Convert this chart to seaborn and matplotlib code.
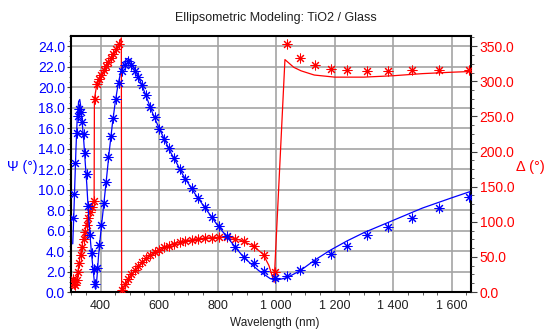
import matplotlib
matplotlib.use("Agg")
import matplotlib.pyplot as plt
from matplotlib.ticker import MultipleLocator, FuncFormatter
import seaborn as sns

# ---------------- data ----------------
# measured wavelengths (nm)
wl_meas = [306, 310, 314, 318, 322, 327, 332, 337, 342, 347, 352, 358, 364, 370, 376,
           382, 389, 396, 403, 411, 419, 427, 435, 444, 453, 463, 473, 483, 494, 505,
           517, 529, 542, 556, 570, 585, 601, 617, 634, 652, 671, 690, 711, 733, 756,
           780, 805, 832, 860, 890, 923, 960, 996, 1037, 1083, 1131, 1186, 1243, 1310,
           1383, 1465, 1555, 1660]
# measured Psi (deg)
psi_meas = [7.2, 9.6, 12.6, 15.5, 17.2, 17.9, 17.6, 16.6, 15.4, 13.6, 11.5, 8.4, 5.6, 3.8, 2.2,
            0.8, 2.3, 4.6, 6.5, 8.7, 10.7, 13.2, 15.2, 17.0, 18.8, 20.4, 21.6, 22.2, 22.6, 22.2,
            21.6, 21.0, 20.2, 19.2, 18.1, 17.1, 15.9, 14.9, 14.1, 13.1, 12.0, 11.0, 10.2, 9.2, 8.3,
            7.3, 6.4, 5.5, 4.4, 3.4, 2.8, 2.05, 1.4, 1.6, 2.1, 2.9, 3.75, 4.5, 5.55,
            6.3, 7.25, 8.2, 9.3]
# measured Delta (deg)
delta_meas = [18, 11, 10, 17, 28, 41, 53, 64, 75, 86, 96, 106, 114, 121, 129,
              275, 296, 303, 309, 316, 322, 328, 333, 339, 346, 353, 3, 11, 19, 26,
              32, 37, 43, 48, 52.5, 57, 60.5, 63.5, 66, 68.5, 70.8, 72.5, 74, 75.5, 76.8,
              77.6, 78.3, 78.2, 75.8, 72.3, 66, 52, 29, 353, 333, 323, 318, 316, 315,
              315, 316, 316, 316]

# model Psi curve
psi_model_wl = [305, 308, 312, 316, 320, 325, 329, 333, 338, 343, 348, 353, 358, 364, 370,
                376, 381, 384, 388, 393, 400, 410, 420, 430, 440, 450, 460, 470, 480, 490,
                500, 520, 540, 560, 580, 600, 620, 640, 660, 680, 700, 720, 740, 760, 780,
                800, 820, 840, 860, 880, 900, 920, 940, 960, 980, 1000, 1037, 1083, 1131, 1186,
                1243, 1300, 1400, 1500, 1600, 1662]
psi_model = [4.7, 7.0, 10.5, 14.0, 16.8, 18.6, 18.8, 18.0, 16.3, 14.6, 12.5, 10.5, 8.0, 5.5, 3.5,
             1.8, 0.4, 0.3, 1.5, 3.5, 5.6, 8.3, 11.0, 13.8, 16.3, 18.5, 20.3, 21.6, 22.4, 22.8,
             22.7, 21.6, 20.3, 18.8, 17.3, 16.0, 14.8, 13.6, 12.6, 11.5, 10.6, 9.7, 8.9, 8.1, 7.3,
             6.5, 5.8, 5.1, 4.4, 3.7, 3.1, 2.6, 2.1, 1.7, 1.3, 1.15, 1.4, 2.1, 3.1, 4.1,
             5.0, 5.8, 7.0, 8.2, 9.2, 9.8]

# model Delta curve
delta_model_wl = [303, 308, 312, 316, 320, 325, 330, 335, 340, 345, 350, 355, 360, 365, 370,
                  375, 378, 379, 385, 390, 400, 420, 440, 460, 471, 472, 480, 490, 500, 520,
                  540, 560, 580, 600, 620, 640, 660, 680, 700, 740, 780, 820, 850, 880, 920,
                  955, 975, 993, 1030, 1060, 1085, 1130, 1200, 1300, 1400, 1500, 1600, 1662]
delta_model = [16, 12, 9, 12, 22, 36, 50, 62, 73, 83, 93, 102, 110, 117, 122,
               127, 130, 275, 290, 298, 306, 321, 335, 350, 362, 0, 7, 15, 22, 32,
               42, 49, 55, 60, 64, 67, 69.5, 71.5, 73.5, 76, 77.5, 78, 77, 73.5, 66,
               54, 38, 14, 331, 320, 315, 309, 306, 306, 308, 311, 313, 314]

title = "Ellipsometric Modeling: TiO2 / Glass"
x_label = "Wavelength (nm)"
psi_label = "Ψ (°)"
delta_label = "Δ (°)"

# ---------------- styling ----------------
sns.set_style("white")
plt.rcParams['font.family'] = ['Liberation Sans', 'DejaVu Sans']

BLUE = "#0000FF"
RED = "#FF0000"
GRID = "#a4a4a4"
STAR = (8, 2, 0)

W, H = 547, 335
fig = plt.figure(figsize=(W / 100, H / 100), dpi=100)
L, R, T, B = 70.7, 470.5, 36.0, 292.0
axg = fig.add_axes([L / W, 1 - B / H, (R - L) / W, (B - T) / H])
axd = axg.twinx()
axp = axg.twinx()

# Delta (red) on its own axis
sns.lineplot(x=delta_model_wl, y=delta_model, ax=axd, color=RED, lw=0.9,
             sort=False, estimator=None)
sns.scatterplot(x=wl_meas, y=delta_meas, ax=axd, color=RED, marker=STAR,
                s=42, linewidth=0.75)
# Psi (blue) on top
sns.lineplot(x=psi_model_wl, y=psi_model, ax=axp, color=BLUE, lw=0.9,
             sort=False, estimator=None)
sns.scatterplot(x=wl_meas, y=psi_meas, ax=axp, color=BLUE, marker=STAR,
                s=42, linewidth=0.75)

xlim = (298, 1664)
for a in (axg, axd, axp):
    a.set_xlim(*xlim)
axg.set_ylim(0, 25)
axp.set_ylim(0, 25)
axd.set_ylim(0, 350 * 25 / 24)

# grid / base axis
axg.xaxis.set_major_locator(MultipleLocator(200))
axg.xaxis.set_minor_locator(MultipleLocator(50))
axg.yaxis.set_major_locator(MultipleLocator(2))
axg.yaxis.set_minor_locator(MultipleLocator(0.5))
axg.xaxis.set_major_formatter(FuncFormatter(lambda v, p: f"{int(round(v)):,}".replace(",", " ")))
axg.yaxis.set_major_formatter(FuncFormatter(lambda v, p: f"{v:.1f}"))
axg.grid(True, which='major', color=GRID, lw=1.2)
axg.set_axisbelow(True)

axg.tick_params(axis='y', which='major', direction='out', length=3, width=0.8,
                color='#404040', labelcolor=BLUE, labelsize=10, pad=1)
axg.tick_params(axis='y', which='minor', direction='out', length=1.5, width=0.6,
                color='#404040', left=True)
axg.tick_params(axis='x', which='major', direction='out', length=4, width=0.8,
                color='#404040', labelcolor='#202020', labelsize=9, pad=2)
axg.tick_params(axis='x', which='minor', direction='out', length=2, width=0.6,
                color='#404040', bottom=True)

for s in axg.spines.values():
    s.set_visible(True)
    s.set_color('black')
    s.set_linewidth(1.5)

# Delta axis (right)
axd.yaxis.set_major_locator(MultipleLocator(50))
axd.yaxis.set_minor_locator(MultipleLocator(12.5))
axd.yaxis.set_major_formatter(FuncFormatter(lambda v, p: f"{v:.1f}"))
axd.tick_params(axis='y', which='major', direction='out', length=4, width=0.8,
                color='#404040', labelcolor=RED, labelsize=10, pad=2.5)
axd.tick_params(axis='y', which='minor', direction='out', length=2, width=0.6,
                color='#404040', right=True)
for s in axd.spines.values():
    s.set_visible(False)

# Psi data axis: no decorations
axp.set_yticks([])
axp.tick_params(right=False, labelright=False)
for s in axp.spines.values():
    s.set_visible(False)

# labels
axg.set_ylabel(psi_label, rotation=0, color=BLUE, fontsize=10, ha='center', va='center')
axg.yaxis.set_label_coords(-0.122, 0.488)
axd.set_ylabel(delta_label, rotation=0, color=RED, fontsize=10.5, ha='center', va='center')
axd.yaxis.set_label_coords(1.151, 0.488)
axp.set_ylabel("")
axg.set_xlabel(x_label, fontsize=8.5, color='#202020', va='center')
axg.xaxis.set_label_coords(0.511, -0.121)
axg.text(0.513, 1.07, title, transform=axg.transAxes, ha='center', va='center',
         fontsize=9, color='#202020')

fig.savefig("out.png", dpi=100)
